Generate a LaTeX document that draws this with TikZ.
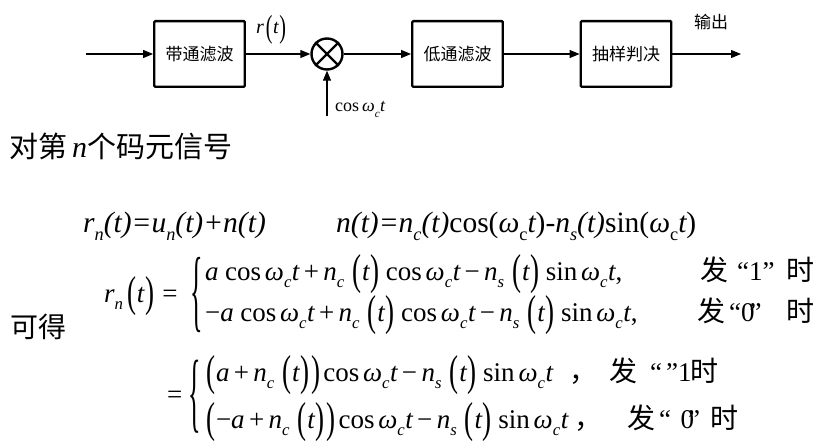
\documentclass[tikz,border=0pt]{standalone}
\usepackage{graphicx}
\usepackage{fontspec}
\setmainfont{Liberation Serif}
\newfontfamily\cjk{Noto Sans CJK SC}
\usetikzlibrary{arrows.meta}
\newcommand\sbs[1]{\raisebox{-0.28em}{\scalebox{0.62}{\itshape #1}}}
\newcommand\sbu[1]{\raisebox{-0.28em}{\scalebox{0.62}{\upshape #1}}}
\newcommand\op[1]{\hspace{0.24em}{\upshape #1}\hspace{0.14em}}
\newcommand\bin[1]{\hspace{0.16em}{\upshape #1}\hspace{0.16em}}
\newcommand\Lp{\hspace{0.3em}{\upshape\raisebox{-0.16em}{\scalebox{1}[1.6]{(}}}\hspace{0.03em}}
\newcommand\Rp{\hspace{0.03em}{\upshape\raisebox{-0.16em}{\scalebox{1}[1.6]{)}}}}
\newcommand\wc{{\itshape ω}\sbs{c}\hspace{0.02em}{\itshape t}}
\begin{document}
\begin{tikzpicture}[x=1pt,y=-1pt,
  blk/.style={draw,line width=2.4pt,rounded corners=1pt,minimum width=90.5pt,minimum height=65.6pt,inner sep=0pt,font=\cjk\fontsize{17}{20}\selectfont},
  sig/.style={line width=1.1pt,-{Triangle[length=10pt,width=8pt]}},
  lbl/.style={inner sep=0pt},
  big/.style={inner sep=0pt,font=\cjk\fontsize{29}{32}\selectfont},
  eqa/.style={inner sep=0pt,anchor=base west,font=\fontsize{29.5}{34}\selectfont},
  eqb/.style={inner sep=0pt,anchor=base west,font=\fontsize{27}{30}\selectfont},
  ann/.style={inner sep=0pt,anchor=base west,font=\cjk\fontsize{28}{30}\selectfont},
  brc/.style={inner sep=0pt,font=\fontsize{26}{30}\selectfont}]
\useasboundingbox (0,0) rectangle (825,441);
% ---- block diagram ----
\node[blk] (bp) at (199.5,54) {带通滤波};
\node[draw,circle,line width=2.4pt,minimum size=31pt,inner sep=0pt] (mul) at (327,54) {};
\draw[line width=2.4pt] (mul.north west) -- (mul.south east) (mul.north east) -- (mul.south west);
\node[blk] (lp) at (457.5,54) {低通滤波};
\node[blk] (sd) at (626,54) {抽样判决};
\coordinate (in) at (86,54);
\coordinate (out) at (741,54);
\coordinate (lo) at (327,116);
\draw[sig] (in) -- (bp.west);
\draw[sig] (bp.east) -- (mul.west);
\draw[sig] (mul.east) -- (lp.west);
\draw[sig] (lp.east) -- (sd.west);
\draw[sig] (sd.east) -- (out);
\draw[sig] (lo) -- (mul.south);
\node[lbl,anchor=base west,font=\fontsize{20}{24}\selectfont] (rt) at (256,34) {{\itshape r}\hspace{-0.2em}\Lp{\itshape t}\Rp};
\node[lbl,anchor=base west,font=\fontsize{18}{20}\selectfont] (cw) at (335,112) {cos\,\wc};
\node[lbl,font=\cjk\fontsize{17}{20}\selectfont] (outl) at (711,22) {输出};
% ---- text ----
\node[big,anchor=west] (t1) at (9,146) {对第\,{\rmfamily\fontsize{30}{32}\selectfont\itshape n}个码元信号};
\node[eqa] (e1) at (83,232) {\itshape r\sbs{n}(t)=u\sbs{n}(t)+n(t)};
\node[eqa] (e2) at (336,232) {{\itshape n(t)=n\sbs{c}(t)}cos({\itshape ω}\sbu{c}{\itshape t})-{\itshape n\sbs{s}(t)}sin({\itshape ω}\sbu{c}{\itshape t})};
\node[big,anchor=west,font=\cjk\fontsize{28}{30}\selectfont] (kd) at (10,327) {可得};
% first cases
\node[eqb] (r1) at (104,302) {{\itshape r}\sbs{n}\hspace{-0.15em}\Lp{\itshape t}\Rp\hspace{0.3em}=};
\node[brc] (b1) at (197,295) {\scalebox{1.0}[3.5]{\{}};
\node[eqb] (l1) at (205,280) {{\itshape a}\op{cos}\wc\bin{+}{\itshape n}\sbs{c}\Lp{\itshape t}\Rp\op{cos}\wc\bin{−}{\itshape n}\sbs{s}\Lp{\itshape t}\Rp\op{sin}\wc,};
\node[eqb] (l2) at (205,321) {−{\itshape a}\op{cos}\wc\bin{+}{\itshape n}\sbs{c}\Lp{\itshape t}\Rp\op{cos}\wc\bin{−}{\itshape n}\sbs{s}\Lp{\itshape t}\Rp\op{sin}\wc,};
\node[ann] (f1) at (700,280) {发};
\node[eqb] (q1) at (737,280) {“1”};
\node[ann] (s1) at (786,280) {时};
\node[ann] (f2) at (697,321) {发};
\node[eqb] (q2) at (729,321) {“0\kern-5pt”};
\node[ann] (s2) at (786,321) {时};
% second cases
\node[eqb] (eq2) at (167,403) {=};
\node[brc] (b2) at (195,397) {\scalebox{1.0}[3.4]{\{}};
\node[eqb] (l3) at (206,381) {\hspace{-0.3em}\Lp{\itshape a}\bin{+}{\itshape n}\sbs{c}\Lp{\itshape t}\Rp\hspace{0.05em}\Rp\hspace{0.1em}cos\hspace{0.14em}\wc\bin{−}{\itshape n}\sbs{s}\Lp{\itshape t}\Rp\op{sin}\wc};
\node[ann] (c3) at (569,381) {，};
\node[ann] (f3) at (609,381) {发};
\node[eqb] (q3) at (650,381) {“\hspace{0.15em}”1};
\node[ann] (s3) at (690,381) {时};
\node[eqb] (l4) at (206,428) {\hspace{-0.3em}\Lp−{\itshape a}\bin{+}{\itshape n}\sbs{c}\Lp{\itshape t}\Rp\hspace{0.05em}\Rp\hspace{0.1em}cos\hspace{0.14em}\wc\bin{−}{\itshape n}\sbs{s}\Lp{\itshape t}\Rp\op{sin}\wc};
\node[ann] (c4) at (574,428) {，};
\node[ann] (f4) at (627,428) {发};
\node[eqb] (q4) at (659,428) {“\hspace{0.35em}0\kern-6pt”};
\node[ann] (s4) at (710,428) {时};
\end{tikzpicture}
\end{document}
